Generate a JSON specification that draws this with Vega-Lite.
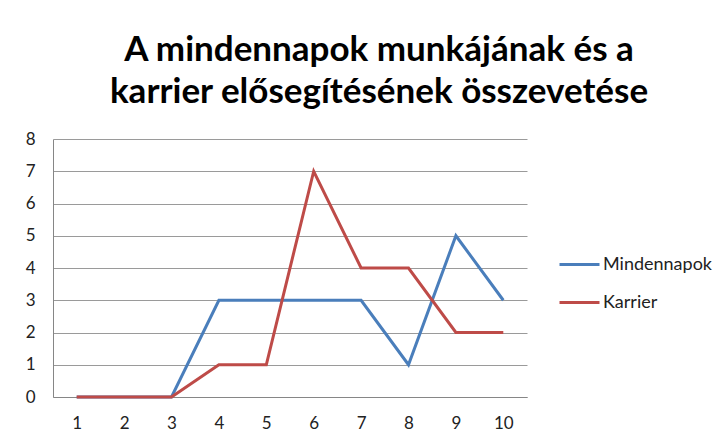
{
  "$schema": "https://vega.github.io/schema/vega-lite/v6.json",
  "autosize": {"type": "none"},
  "padding": {"left": 53, "top": 139, "right": 199, "bottom": 48},
  "width": 474,
  "height": 258,
  "background": "white",
  "config": {"view": {"stroke": null}, "font": "Lato"},
  "title": {
    "text": ["A mindennapok munkájának és a", "karrier elősegítésének összevetése"],
    "font": "Lato",
    "fontSize": 35,
    "fontWeight": "bold",
    "color": "#000000",
    "lineHeight": 42,
    "anchor": "middle",
    "dx": 89,
    "offset": 20
  },
  "data": {
    "values": [
      {"x": "1", "series": "Mindennapok", "value": 0},
      {"x": "2", "series": "Mindennapok", "value": 0},
      {"x": "3", "series": "Mindennapok", "value": 0},
      {"x": "4", "series": "Mindennapok", "value": 3},
      {"x": "5", "series": "Mindennapok", "value": 3},
      {"x": "6", "series": "Mindennapok", "value": 3},
      {"x": "7", "series": "Mindennapok", "value": 3},
      {"x": "8", "series": "Mindennapok", "value": 1},
      {"x": "9", "series": "Mindennapok", "value": 5},
      {"x": "10", "series": "Mindennapok", "value": 3},
      {"x": "1", "series": "Karrier", "value": 0},
      {"x": "2", "series": "Karrier", "value": 0},
      {"x": "3", "series": "Karrier", "value": 0},
      {"x": "4", "series": "Karrier", "value": 1},
      {"x": "5", "series": "Karrier", "value": 1},
      {"x": "6", "series": "Karrier", "value": 7},
      {"x": "7", "series": "Karrier", "value": 4},
      {"x": "8", "series": "Karrier", "value": 4},
      {"x": "9", "series": "Karrier", "value": 2},
      {"x": "10", "series": "Karrier", "value": 2}
    ]
  },
  "mark": {"type": "line", "strokeWidth": 3, "strokeJoin": "miter"},
  "encoding": {
    "x": {
      "field": "x",
      "type": "ordinal",
      "sort": ["1", "2", "3", "4", "5", "6", "7", "8", "9", "10"],
      "scale": {"type": "point", "padding": 0.5},
      "axis": {
        "title": null,
        "labelAngle": 0,
        "ticks": false,
        "labelPadding": 18,
        "labelFontSize": 17,
        "labelColor": "#222222",
        "labelFont": "Lato",
        "domainColor": "#868686",
        "domainWidth": 1,
        "grid": false
      }
    },
    "y": {
      "field": "value",
      "type": "quantitative",
      "scale": {"domain": [0, 8], "nice": false},
      "axis": {
        "title": null,
        "values": [0, 1, 2, 3, 4, 5, 6, 7, 8],
        "ticks": false,
        "labelPadding": 18,
        "labelFontSize": 17,
        "labelColor": "#222222",
        "labelFont": "Lato",
        "domainColor": "#868686",
        "gridColor": "#9a9a9a",
        "gridWidth": 1
      }
    },
    "color": {
      "field": "series",
      "type": "nominal",
      "sort": ["Mindennapok", "Karrier"],
      "scale": {"domain": ["Mindennapok", "Karrier"], "range": ["#4A7EBB", "#BE4B48"]},
      "legend": {
        "title": null,
        "orient": "none",
        "legendX": 505,
        "legendY": 104,
        "symbolType": "stroke",
        "symbolSize": 1600,
        "symbolStrokeWidth": 3,
        "labelFontSize": 18,
        "labelFont": "Lato",
        "labelColor": "#222222",
        "labelOffset": 2,
        "rowPadding": 7
      }
    }
  }
}
